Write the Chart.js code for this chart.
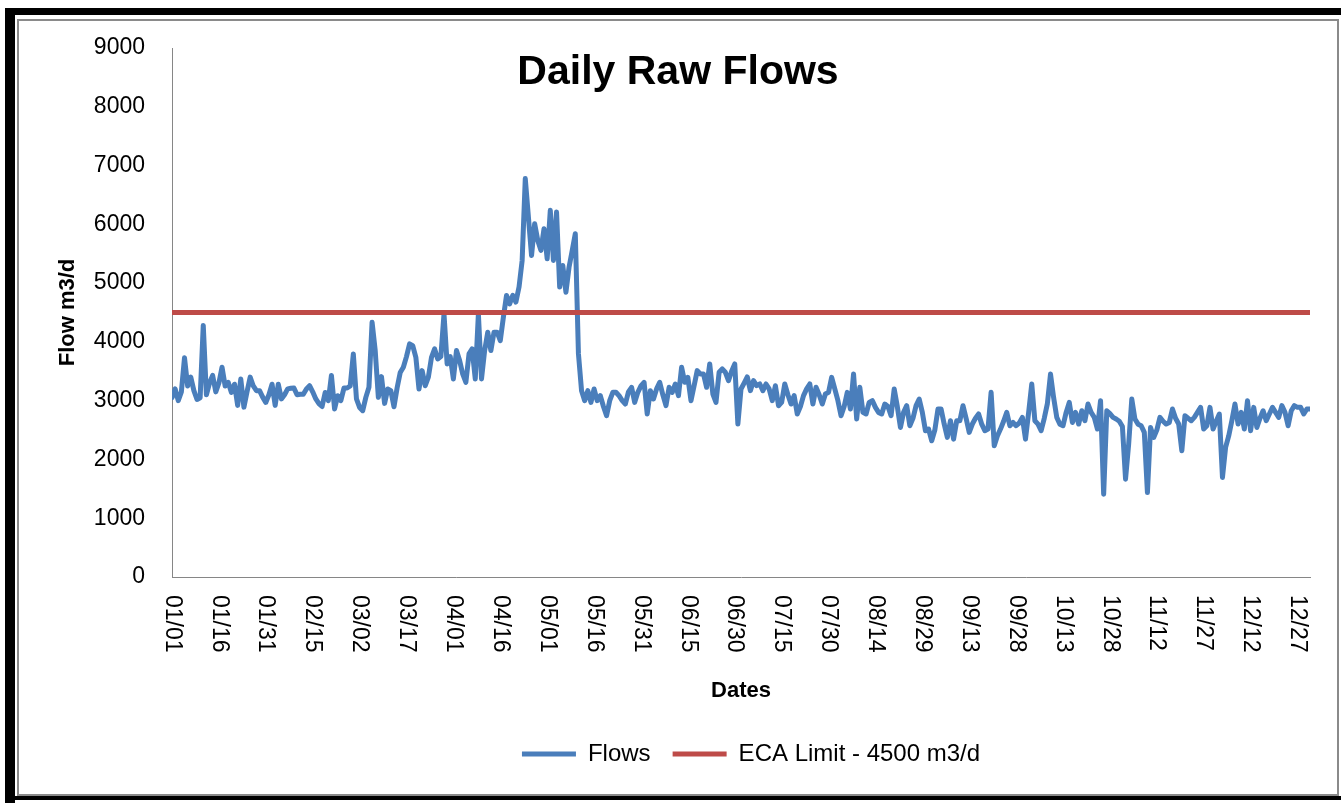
<!DOCTYPE html>
<html><head><meta charset="utf-8">
<script src="https://cdn.jsdelivr.net/npm/chart.js@4.4.0/dist/chart.umd.min.js"></script>
<style>
html,body{margin:0;padding:0;background:#fff;width:1341px;height:803px;overflow:hidden}
.blk{position:absolute;background:#000}
.gry{position:absolute;border:2px solid #8a8a8a;box-sizing:border-box}
#wrap{position:absolute;left:0;top:0;width:1341px;height:803px}
</style></head><body>
<div class="blk" style="left:5px;top:8px;width:10px;height:795px"></div>
<div class="blk" style="left:5px;top:8px;width:1336px;height:7px"></div>
<div class="blk" style="left:15px;top:796px;width:1326px;height:4px"></div>
<div class="gry" style="left:17px;top:19px;width:1322px;height:777px"></div>
<div id="wrap"><canvas id="c"></canvas></div>
<script>
const chartTitle = 'Daily Raw Flows';
const xTitle = 'Dates';
const yTitle = 'Flow m3/d';
const seriesNames = ['Flows', 'ECA Limit - 4500 m3/d'];
const ecaLimit = 4500;
const tickDays = [0,15,30,45,60,75,90,105,120,135,150,165,180,195,210,225,240,255,270,285,300,315,330,345,360];
const tickLabels = ['01/01','01/16','01/31','02/15','03/02','03/17','04/01','04/16','05/01','05/16','05/31','06/15','06/30','07/15','07/30','08/14','08/29','09/13','09/28','10/13','10/28','11/12','11/27','12/12','12/27'];
const flows = [
3050,3200,3000,3150,3730,3250,3400,3170,3020,3050,
4280,3100,3300,3430,3150,3300,3570,3250,3310,3140,
3280,2920,3370,2890,3150,3400,3250,3170,3170,3060,
2970,3100,3280,2920,3280,3030,3100,3200,3210,3215,
3100,3110,3110,3200,3255,3150,3030,2950,2900,3140,
3000,3430,2860,3085,3000,3215,3215,3250,3795,3030,
2885,2830,3056,3230,4335,3852,3056,3409,2954,3198,
3170,2897,3215,3480,3568,3750,3966,3937,3738,3198,
3511,3255,3400,3738,3880,3710,3750,4477,3625,3750,
3369,3852,3682,3450,3312,3795,3880,3369,4477,3369,
3852,4165,3852,4165,4165,4022,4420,4790,4648,4790,
4677,4932,5386,6778,6125,5471,6011,5727,5557,5926,
5414,6238,5386,6210,4932,5301,4846,5272,5550,5840,
3800,3170,3000,3170,2971,3199,3000,3085,2900,2744,
3000,3142,3142,3085,3000,2943,3150,3227,2971,3142,
3250,3312,2773,3170,3028,3200,3312,3100,2915,3227,
3142,3284,3085,3568,3312,3397,3000,3255,3511,3454,
3454,3227,3625,3113,2971,3483,3540,3483,3340,3500,
3625,2602,3198,3300,3404,3170,3340,3255,3284,3170,
3284,3200,3000,3255,2915,2971,3284,3100,2943,3085,
2773,2900,3085,3200,3284,2943,3227,3100,2943,3113,
3142,3397,3200,3000,2744,2900,3142,2857,3454,2687,
3227,2801,2773,2971,3000,2886,2800,2773,2943,2900,
2744,3199,2900,2545,2800,2915,2574,2700,2915,3028,
2800,2488,2517,2318,2500,2858,2858,2600,2375,2659,
2346,2659,2659,2915,2700,2460,2602,2700,2773,2600,
2488,2517,3142,2233,2400,2517,2650,2801,2574,2630,
2574,2620,2716,2346,2800,3284,2659,2600,2488,2700,
2950,3454,3050,2716,2600,2574,2800,2971,2630,2801,
2602,2829,2659,2943,2800,2716,2517,3000,1409,2829,
2780,2716,2687,2650,2560,1665,2261,3028,2687,2600,
2574,2460,1437,2545,2375,2500,2716,2650,2602,2630,
2858,2700,2602,2148,2744,2700,2659,2716,2800,2886,
2517,2574,2886,2517,2650,2773,1693,2204,2400,2659,
2943,2602,2801,2517,3000,2489,2886,2545,2700,2829,
2659,2773,2886,2800,2716,2915,2800,2574,2829,2915,
2886,2886,2773,2858,2858];
const lastDay = flows.length - 1;

const FONT = "'Liberation Sans', Arial, sans-serif";

const overlay = {
  id: 'overlay',
  afterLayout(chart) {
    const lg = chart.legend;
    if (lg) { lg.left += 10; lg.right += 10; }
  },
  afterDraw(chart) {
    const c = chart.ctx;
    const xs = chart.scales.x;
    c.save();
    c.fillStyle = '#000';
    c.font = 'bold 41px ' + FONT;
    c.textAlign = 'center';
    c.textBaseline = 'middle';
    c.fillText(chartTitle, 678, 73);
    c.font = '23px ' + FONT;
    c.textAlign = 'left';
    tickDays.forEach((d, i) => {
      const x = xs.getPixelForValue(d);
      c.save();
      c.translate(x, xs.top + 18);
      c.rotate(Math.PI / 2);
      c.fillText(tickLabels[i], 0, 0);
      c.restore();
    });
    c.restore();
  }
};

new Chart(document.getElementById('c'), {
  type: 'line',
  data: {
    datasets: [
      {
        label: seriesNames[0],
        data: flows.map((v, i) => ({x: i, y: v})),
        borderColor: '#4A7EBB',
        backgroundColor: '#4A7EBB',
        borderWidth: 5,
        borderCapStyle: 'round',
        borderJoinStyle: 'round',
        pointRadius: 0,
        tension: 0,
        fill: false,
        order: 1
      },
      {
        label: seriesNames[1],
        data: [{x: 0, y: ecaLimit}, {x: lastDay, y: ecaLimit}],
        borderColor: '#BE4B48',
        backgroundColor: '#BE4B48',
        borderWidth: 5,
        borderCapStyle: 'round',
        pointRadius: 0,
        fill: false,
        order: 0
      }
    ]
  },
  options: {
    responsive: true,
    maintainAspectRatio: false,
    animation: false,
    devicePixelRatio: 1,
    layout: {padding: {top: 48, right: 31, bottom: 27, left: 0}},
    plugins: {
      legend: {
        position: 'bottom',
        fullSize: false,
        labels: {
          usePointStyle: true,
          pointStyle: 'line',
          pointStyleWidth: 54,
          font: {size: 24, family: FONT},
          color: '#000',
          padding: 22,
          sort: (a, b) => a.datasetIndex - b.datasetIndex
        }
      },
      tooltip: {enabled: false},
      title: {display: false}
    },
    scales: {
      x: {
        type: 'linear',
        min: 0,
        max: lastDay,
        grid: {display: false, drawTicks: false},
        border: {display: true, color: '#868686', width: 1},
        ticks: {display: false},
        title: {display: true, text: xTitle, color: '#000', font: {size: 22, weight: 'bold', family: FONT}, padding: {top: 0, bottom: 16}},
        afterFit(s) { s.height = 143; }
      },
      y: {
        min: 0,
        max: 9000,
        grid: {display: false, drawTicks: false},
        border: {display: true, color: '#868686', width: 1},
        ticks: {stepSize: 1000, color: '#000', font: {size: 23, family: FONT}, padding: 27, callback: v => String(v)},
        title: {display: true, text: yTitle, color: '#000', font: {size: 22, weight: 'bold', family: FONT}, padding: {top: 55, bottom: 0}},
        afterFit(s) { s.width = 172; }
      }
    }
  },
  plugins: [overlay]
});
</script>
</body></html>
